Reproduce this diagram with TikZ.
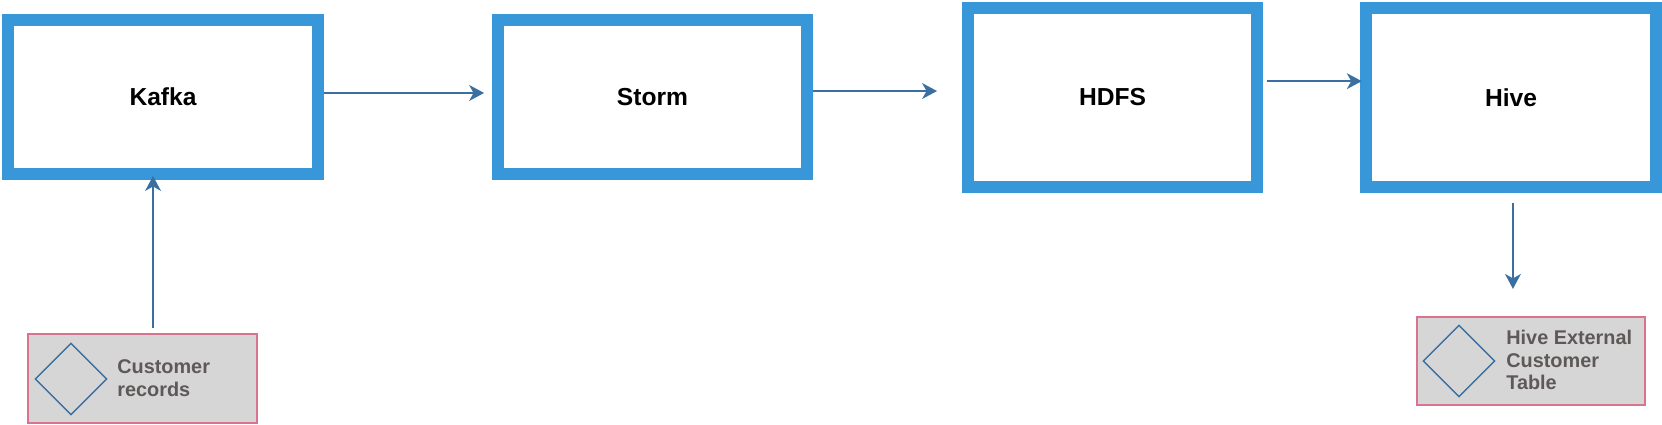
\documentclass[tikz,border=0pt]{standalone}
\usepackage{fontspec}
\setmainfont{Liberation Sans}
\usetikzlibrary{arrows.meta,shapes.geometric}
\definecolor{boxblue}{HTML}{3897D9}
\definecolor{arrowblue}{HTML}{3B6FA0}
\definecolor{pinkline}{HTML}{D9738F}
\definecolor{grayfill}{HTML}{D6D6D6}
\definecolor{textgray}{HTML}{5E5858}
\begin{document}
\begin{tikzpicture}[x=0.02cm,y=-0.02cm,
 bigbox/.style={draw=boxblue, line width=0.24cm, fill=white, inner sep=0pt, font=\fontsize{14}{17}\selectfont\bfseries},
 databox/.style={draw=pinkline, line width=0.9pt, fill=grayfill, inner sep=0pt, minimum width=4.57cm, minimum height=1.77cm},
 dia/.style={draw=arrowblue, line width=0.8pt, diamond, minimum width=1.44cm, minimum height=1.44cm, inner sep=0pt},
 lbl/.style={text=textgray, font=\fontsize{11.3}{13}\selectfont\bfseries, align=left, anchor=west, inner sep=0pt},
 flow/.style={draw=arrowblue, line width=1.1pt, -{Stealth[length=8.5pt,width=9pt,inset=2.5pt]}}]
\useasboundingbox (0,0) rectangle (1662,424);
\node[bigbox, minimum width=6.2cm, minimum height=3.08cm] (kafka) at (163,97) {Kafka};
\node[bigbox, minimum width=6.18cm, minimum height=3.08cm] (storm) at (652.5,97) {Storm};
\node[bigbox, minimum width=5.78cm, minimum height=3.58cm] (hdfs) at (1112.5,97.5) {HDFS};
\node[bigbox, minimum width=5.8cm, minimum height=3.58cm] (hive) at (1511,97.5) {Hive};
\node[databox] (cust) at (142.5,378.5) {};
\node[dia] (custdia) at (71,379) {};
\node[lbl] (custlbl) at (117,378.5) {Customer\\records};
\node[databox] (table) at (1531,361) {};
\node[dia] (tabledia) at (1459,361) {};
\node[lbl] (tablelbl) at (1506,360) {Hive External\\Customer\\Table};
\draw[flow, shorten >=4.5pt] ([yshift=2.3pt]kafka.east) -- ([yshift=2.3pt]kafka.east -| storm.west);
\draw[flow, shorten >=14.2pt] ([yshift=3.4pt]storm.east) -- ([yshift=3.4pt]storm.east -| hdfs.west);
\draw[flow, shorten <=2.3pt, shorten >=-1pt] ([yshift=9.3pt]hdfs.east) -- ([yshift=9.3pt]hdfs.east -| hive.west);
\draw[flow, shorten <=3.4pt, shorten >=-2.3pt] ([xshift=6pt]cust.north) -- ([xshift=6pt]cust.north |- kafka.south);
\draw[flow, shorten <=5.7pt, shorten >=15.4pt] ([xshift=1.1pt]hive.south) -- ([xshift=1.1pt]hive.south |- table.north);
\end{tikzpicture}
\end{document}
